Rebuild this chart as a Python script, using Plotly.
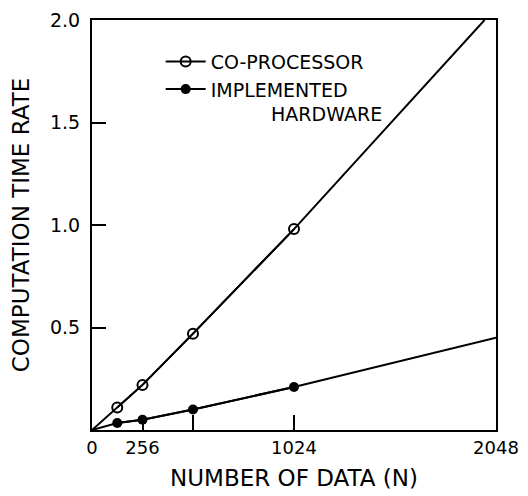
import plotly.graph_objects as go

# Data
n_points = [128, 256, 512, 1024]
coproc_rate = [0.11, 0.22, 0.47, 0.98]
hw_rate = [0.034, 0.05, 0.10, 0.21]

# fitted lines drawn through the points
coproc_line_x = [0, 128, 256, 512, 1024, 1990]
coproc_line_y = [0, 0.11, 0.22, 0.47, 0.98, 2.0]
hw_line_x = [0, 128, 256, 512, 1024, 2048]
hw_line_y = [0, 0.034, 0.05, 0.10, 0.21, 0.45]

x_tickvals = [0, 256, 512, 1024, 2048]
x_ticktext = ["0", "256", "", "1024", "2048"]
y_tickvals = [0.5, 1.0, 1.5, 2.0]
y_ticktext = ["0.5", "1.0", "1.5", "2.0"]

FONT = "DejaVu Sans"
fig = go.Figure()

fig.add_trace(go.Scatter(
    x=coproc_line_x, y=coproc_line_y, mode="lines",
    line=dict(color="black", width=2), showlegend=False, hoverinfo="skip"))
fig.add_trace(go.Scatter(
    x=hw_line_x, y=hw_line_y, mode="lines",
    line=dict(color="black", width=2), showlegend=False, hoverinfo="skip"))

fig.add_trace(go.Scatter(
    x=n_points, y=coproc_rate, mode="lines+markers", name="CO-PROCESSOR",
    line=dict(color="black", width=2),
    marker=dict(symbol="circle-open", size=10, color="black", line=dict(width=2))))
fig.add_trace(go.Scatter(
    x=n_points, y=hw_rate, mode="lines+markers",
    name="IMPLEMENTED<br>" + "\u00a0" * 10 + "HARDWARE",
    line=dict(color="black", width=2),
    marker=dict(symbol="circle", size=10, color="black")))

# page body has an 8px margin, so the figure is sized to fit inside the window
fig.update_layout(
    width=520, height=488,
    margin=dict(l=84, r=32, t=12, b=66),
    paper_bgcolor="white", plot_bgcolor="white",
    font=dict(family=FONT, color="black", size=19),
    legend=dict(x=0.17, y=0.945, xanchor="left", yanchor="top",
                bgcolor="rgba(0,0,0,0)", font=dict(size=19), valign="top",
                itemwidth=40),
    xaxis=dict(range=[0, 2048], tickvals=x_tickvals, ticktext=x_ticktext,
               ticks="inside", ticklen=15, tickwidth=2, tickcolor="black",
               tickfont=dict(size=18), automargin=False, ticklabeloverflow="allow",
               showline=True, linewidth=2, linecolor="black", mirror=True,
               showgrid=False, zeroline=False,
               title=dict(text="NUMBER OF DATA (N)", font=dict(size=23), standoff=13)),
    yaxis=dict(range=[0, 2.0], tickvals=y_tickvals, ticktext=y_ticktext,
               ticks="inside", ticklen=14, tickwidth=2, tickcolor="black",
               ticklabelstandoff=6, automargin=False, ticklabeloverflow="allow",
               showline=True, linewidth=2, linecolor="black", mirror=True,
               showgrid=False, zeroline=False,
               title=dict(text="COMPUTATION TIME RATE", font=dict(size=23), standoff=14)),
)

fig.write_html("out.html")
